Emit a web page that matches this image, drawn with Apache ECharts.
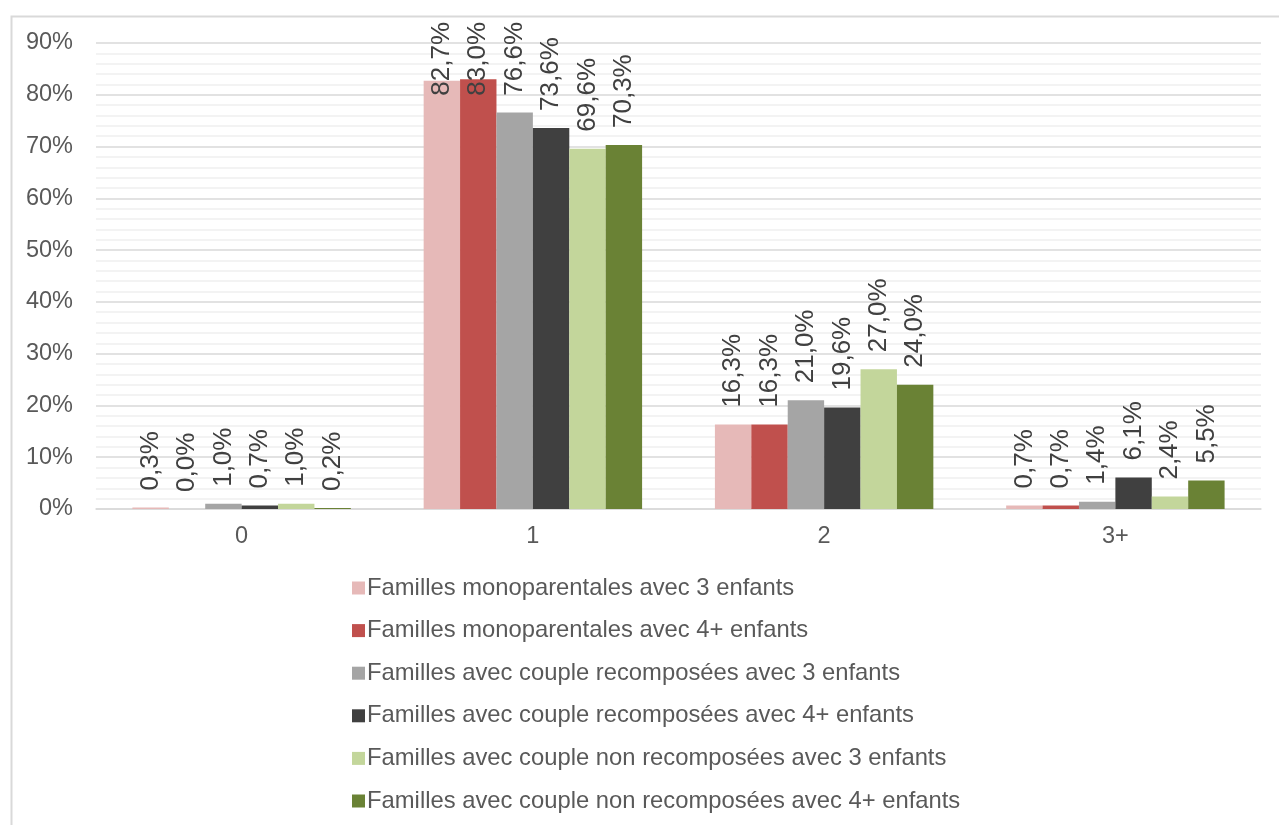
<!DOCTYPE html>
<html>
<head>
<meta charset="utf-8">
<script src="https://cdn.jsdelivr.net/npm/echarts@6/dist/echarts.min.js"></script>
<style>
  html, body { margin: 0; padding: 0; background: #ffffff; }
  #chart { width: 1279px; height: 825px; }
</style>
</head>
<body>
<div id="chart"></div>
<script>
const categories = ['0', '1', '2', '3+'];
const seriesNames = [
  'Familles monoparentales avec 3 enfants',
  'Familles monoparentales avec 4+ enfants',
  'Familles avec couple recomposées avec 3 enfants',
  'Familles avec couple recomposées avec 4+ enfants',
  'Familles avec couple non recomposées avec 3 enfants',
  'Familles avec couple non recomposées avec 4+ enfants'
];
const monoparentales3 = [0.3, 82.7, 16.3, 0.7];
const monoparentales4 = [0.0, 83.0, 16.3, 0.7];
const recomposees3 = [1.0, 76.6, 21.0, 1.4];
const recomposees4 = [0.7, 73.6, 19.6, 6.1];
const nonRecomposees3 = [1.0, 69.6, 27.0, 2.4];
const nonRecomposees4 = [0.2, 70.3, 24.0, 5.5];
const seriesValues = [monoparentales3, monoparentales4, recomposees3, recomposees4, nonRecomposees3, nonRecomposees4];
const colors = ['#E6B9B8', '#C0504D', '#A5A5A5', '#404040', '#C3D69B', '#6A8235'];
const yTicks = [0, 10, 20, 30, 40, 50, 60, 70, 80, 90];

const LABEL_DIST = 17;
const LABEL_TOP_LIMIT = 22;

const chart = echarts.init(document.getElementById('chart'));
const option = {
  backgroundColor: '#ffffff',
  animation: false,
  textStyle: { fontFamily: '"Liberation Sans", Arial, sans-serif' },
  graphic: [{
    type: 'rect',
    left: 9, top: 14,
    shape: { width: 1400, height: 1000 },
    style: { fill: 'none', stroke: '#d9d9d9', lineWidth: 2 },
    silent: true
  }],
  grid: { left: 96, right: 18, top: 43, bottom: 316, containLabel: false },
  legend: {
    orient: 'vertical',
    left: 347,
    top: 570,
    itemWidth: 13,
    itemHeight: 13,
    itemGap: 16.6,
    icon: 'rect',
    data: seriesNames,
    textStyle: { color: '#595959', fontSize: 23.8, lineHeight: 26, padding: [0, 0, 0, -3] },
    selectedMode: false
  },
  xAxis: {
    type: 'category',
    data: categories,
    axisLine: { lineStyle: { color: '#d9d9d9', width: 1.5 } },
    axisTick: { show: false },
    axisLabel: { color: '#595959', fontSize: 23.5, margin: 16 }
  },
  yAxis: {
    type: 'value',
    min: yTicks[0],
    max: yTicks[yTicks.length - 1],
    interval: 10,
    axisLine: { show: false },
    axisTick: { show: false },
    axisLabel: { color: '#595959', fontSize: 23.5, margin: 23, padding: [4, 0, 0, 0], formatter: '{value}%' },
    splitLine: { lineStyle: { color: '#d9d9d9', width: 1.5 } },
    minorTick: { show: false, splitNumber: 5 },
    minorSplitLine: { show: true, lineStyle: { color: '#f0f0f0', width: 1.5 } }
  },
  series: seriesNames.map((name, i) => ({
    name: name,
    type: 'bar',
    data: seriesValues[i],
    barGap: '0%',
    barCategoryGap: '25%',
    itemStyle: { color: colors[i] },
    label: {
      show: true,
      position: 'top',
      distance: LABEL_DIST,
      rotate: 90,
      align: 'left',
      verticalAlign: 'middle',
      color: '#404040',
      fontSize: 26,
      formatter: p => p.value.toFixed(1).replace('.', ',') + '%'
    },
    labelLayout: function (p) {
      if (p.labelRect.y < LABEL_TOP_LIMIT) {
        return { y: p.rect.y - LABEL_DIST + (LABEL_TOP_LIMIT - p.labelRect.y) };
      }
      return {};
    }
  }))
};
chart.setOption(option);
</script>
</body>
</html>
